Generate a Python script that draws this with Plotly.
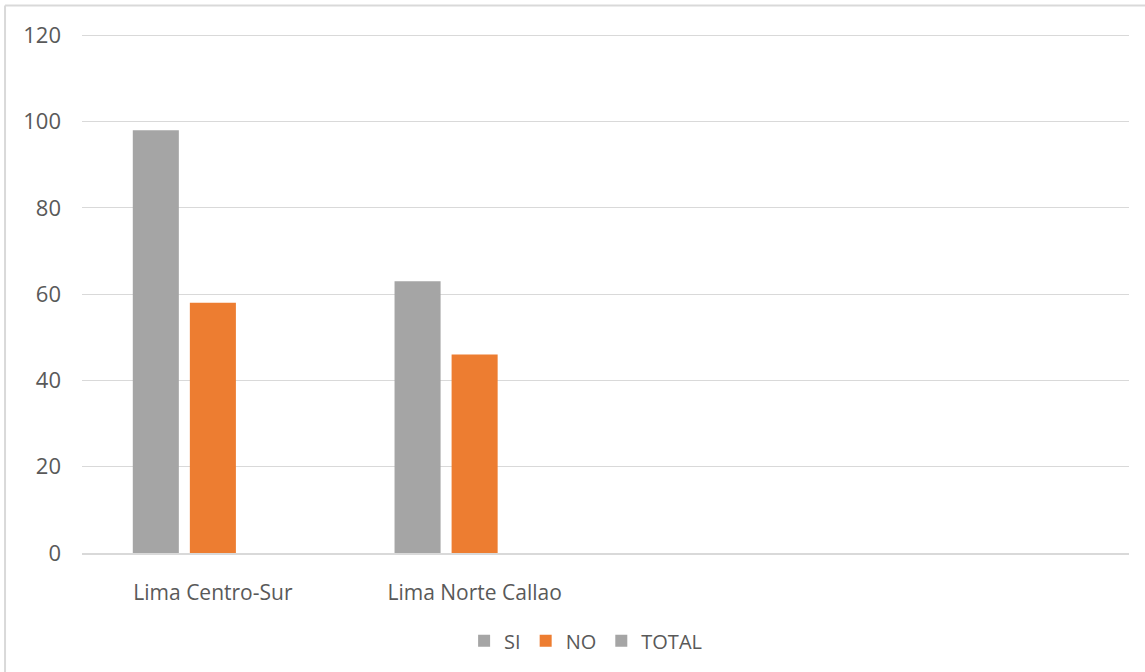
import plotly.graph_objects as go

# data (two trailing empty categories, as in the original sheet)
categories = ["Lima Centro-Sur", "Lima Norte Callao", " ", "  "]
si = [98, 63, None, None]
no = [58, 46, None, None]
total = [None, None, None, None]

font_color = "#595959"
grid_color = "#D9D9D9"

fig = go.Figure()

fig.add_trace(go.Bar(x=categories, y=si, name="SI", marker=dict(color="#A5A5A5", line_width=0)))
fig.add_trace(go.Bar(x=categories, y=no, name="NO", marker=dict(color="#ED7D31", line_width=0)))
fig.add_trace(go.Bar(x=categories, y=total, name="TOTAL", marker=dict(color="#A5A5A5", line_width=0)))

# chart area border (left and top visible)
fig.add_shape(type="line", xref="paper", yref="paper", x0=-0.0735, x1=1.03, y0=1.049, y1=1.049,
              line=dict(color=grid_color, width=2))
fig.add_shape(type="line", xref="paper", yref="paper", x0=-0.0735, x1=-0.0735, y0=1.049, y1=-0.25,
              line=dict(color=grid_color, width=2))

fig.update_layout(
    template="plotly_white",
    width=1145,
    height=672,
    margin=dict(l=82, r=16, t=31, b=117),
    paper_bgcolor="white",
    plot_bgcolor="white",
    barmode="group",
    bargap=0.346,
    bargroupgap=0.193,
    font=dict(family="Open Sans, Lato, sans-serif", size=21, color=font_color),
    xaxis=dict(
        type="category",
        range=[-0.5, 3.5],
        showgrid=False,
        showline=True,
        linecolor=grid_color,
        linewidth=1.5,
        ticks="",
        ticklabelstandoff=20,
        tickfont=dict(size=21),
    ),
    yaxis=dict(
        range=[0, 121],
        tickvals=[0, 20, 40, 60, 80, 100, 120],
        showgrid=True,
        gridcolor=grid_color,
        gridwidth=1.3,
        zeroline=False,
        showline=False,
        ticks="",
        ticklabelstandoff=20,
        tickfont=dict(size=22),
    ),
    legend=dict(
        orientation="h",
        x=0.481,
        xanchor="center",
        y=-0.168,
        yanchor="middle",
        font=dict(size=20, color=font_color),
        itemwidth=30,
        traceorder="normal",
    ),
    showlegend=True,
)

# drop the default page margin so the figure sits at the window origin
fig.write_html("out.html", config={"displayModeBar": False},
               post_script="document.body.style.margin='0';")
